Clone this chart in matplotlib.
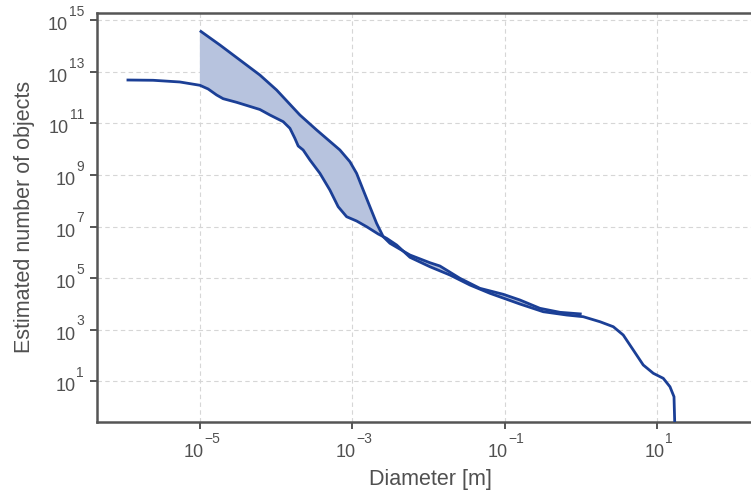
import numpy as np
import matplotlib
matplotlib.use("Agg")
import matplotlib.pyplot as plt
import matplotlib.transforms as mtransforms
from matplotlib.ticker import NullFormatter

plt.rcParams['font.family'] = ['Liberation Sans', 'DejaVu Sans']

# Series A (wide-range model): log10 diameter [m], log10 count
a_logd = [-5.967, -5.618, -5.267, -5.004, -4.895, -4.784, -4.698, -4.522, -4.216,
          -4.084, -3.909, -3.821, -3.756, -3.712, -3.647, -3.558, -3.427, -3.296,
          -3.187, -3.076, -2.945, -2.813, -2.661, -2.551, -2.419, -2.244, -1.982,
          -1.719, -1.456, -1.193, -0.799, -0.493, -0.185, 0.033, 0.252, 0.427,
          0.558, 0.690, 0.821, 0.953, 1.084, 1.172, 1.225, 1.238]
a_logn = [12.689, 12.678, 12.612, 12.484, 12.340, 12.107, 11.963, 11.823, 11.544,
          11.330, 11.070, 10.814, 10.425, 10.126, 9.971, 9.583, 9.066, 8.417,
          7.769, 7.380, 7.214, 6.992, 6.709, 6.542, 6.282, 5.804, 5.439,
          5.117, 4.728, 4.406, 3.990, 3.691, 3.563, 3.497, 3.303, 3.109,
          2.787, 2.204, 1.622, 1.300, 1.105, 0.778, 0.390, -1.0]

# Series B (small-particle model)
b_logd = [-5.004, -4.741, -4.216, -3.996, -3.690, -3.470, -3.164, -3.033, -2.945,
          -2.858, -2.770, -2.682, -2.595, -2.507, -2.244, -1.982, -1.850, -1.587,
          -1.325, -1.018, -0.799, -0.536, -0.273, 0.012]
b_logn = [14.604, 14.049, 12.883, 12.301, 11.330, 10.748, 9.971, 9.517, 9.066,
          8.417, 7.769, 7.124, 6.604, 6.348, 5.893, 5.594, 5.466, 4.988,
          4.600, 4.367, 4.146, 3.823, 3.668, 3.602]

x_tick_exps = [-5, -3, -1, 1]
y_tick_exps = [1, 3, 5, 7, 9, 11, 13, 15]

ax_d = 10.0 ** np.array(a_logd)
ax_n = 10.0 ** np.array(a_logn)
bx_d = 10.0 ** np.array(b_logd)
bx_n = 10.0 ** np.array(b_logn)

line_c = '#1b3f96'
fill_c = '#b7c3de'
spine_c = '#555555'
text_c = '#505050'

fig = plt.figure(figsize=(7.51, 4.93), dpi=100)
ax = fig.add_axes([0.1292, 0.1446, 0.8975, 0.829])
ax.set_xscale('log')
ax.set_yscale('log')

# filled region between the two models
mask = (np.array(a_logd) >= b_logd[0]) & (np.array(a_logd) <= b_logd[-1])
poly_x = np.concatenate([bx_d, ax_d[mask][::-1]])
poly_y = np.concatenate([bx_n, ax_n[mask][::-1]])
ax.fill(poly_x, poly_y, color=fill_c, lw=0, zorder=1)

ax.plot(ax_d, ax_n, color=line_c, lw=2.0, zorder=3, solid_capstyle='butt',
        solid_joinstyle='round')
ax.plot(bx_d, bx_n, color=line_c, lw=2.0, zorder=3, solid_capstyle='butt',
        solid_joinstyle='round')

ax.set_xlim(10 ** -6.355, 10 ** 2.5)
ax.set_ylim(10 ** -0.58, 10 ** 15.29)
ax.set_xticks([10.0 ** e for e in x_tick_exps])
ax.set_yticks([10.0 ** e for e in y_tick_exps])
ax.minorticks_off()
ax.xaxis.set_major_formatter(NullFormatter())
ax.yaxis.set_major_formatter(NullFormatter())

ax.grid(True, which='major', color='#d6d6d6', ls=(0, (4, 3)), lw=0.8)
ax.set_axisbelow(True)

for s in ['left', 'bottom', 'top']:
    ax.spines[s].set_color(spine_c)
    ax.spines[s].set_linewidth(1.8)
ax.spines['right'].set_visible(False)

ax.tick_params(axis='both', which='major', direction='out', length=5, width=1.4,
               color=spine_c)
ax.tick_params(axis='x', top=False)

ax.set_xlabel('Diameter [m]', fontsize=15.5, color=text_c)
ax.xaxis.set_label_coords(0.494, -0.1145)
ax.set_ylabel('Estimated number of objects', fontsize=15.5, color=text_c)
ax.yaxis.set_label_coords(-0.0926, 0.5)

# tick labels as "10" with a large raised exponent
base_fs = 13
exp_fs = 10
px = 72.0 / fig.dpi  # points per pixel
renderer = fig.canvas.get_renderer()


def exp_str(e):
    return str(e) if e >= 0 else '\u2212' + str(-e)


# y tick labels
ytrans = ax.get_yaxis_transform()
for e in y_tick_exps:
    y = 10.0 ** e
    t_exp = ax.text(0, y, exp_str(e), fontsize=exp_fs, color=text_c,
                    ha='right', va='baseline',
                    transform=mtransforms.offset_copy(ytrans, fig, x=-13 * px,
                                                      y=4.4 * px, units='points'))
    w = t_exp.get_window_extent(renderer).width
    ax.text(0, y, '10', fontsize=base_fs, color=text_c, ha='right', va='baseline',
            transform=mtransforms.offset_copy(ytrans, fig, x=(-13 - w - 1.0) * px,
                                              y=-10 * px, units='points'))

# x tick labels
xtrans = ax.get_xaxis_transform()
gap = 0.5
for e in x_tick_exps:
    x = 10.0 ** e
    t_exp = ax.text(x, 0, exp_str(e), fontsize=exp_fs, color=text_c,
                    ha='left', va='baseline')
    t_base = ax.text(x, 0, '10', fontsize=base_fs, color=text_c,
                     ha='left', va='baseline')
    w_exp = t_exp.get_window_extent(renderer).width
    w_base = t_base.get_window_extent(renderer).width
    total = w_base + gap + w_exp
    left = -total / 2.0 + 1.5
    t_base.set_transform(mtransforms.offset_copy(xtrans, fig, x=left * px,
                                                 y=-35.5 * px, units='points'))
    t_exp.set_transform(mtransforms.offset_copy(xtrans, fig,
                                                x=(left + w_base + gap) * px,
                                                y=-21.0 * px, units='points'))

fig.savefig('out.png', dpi=100)
